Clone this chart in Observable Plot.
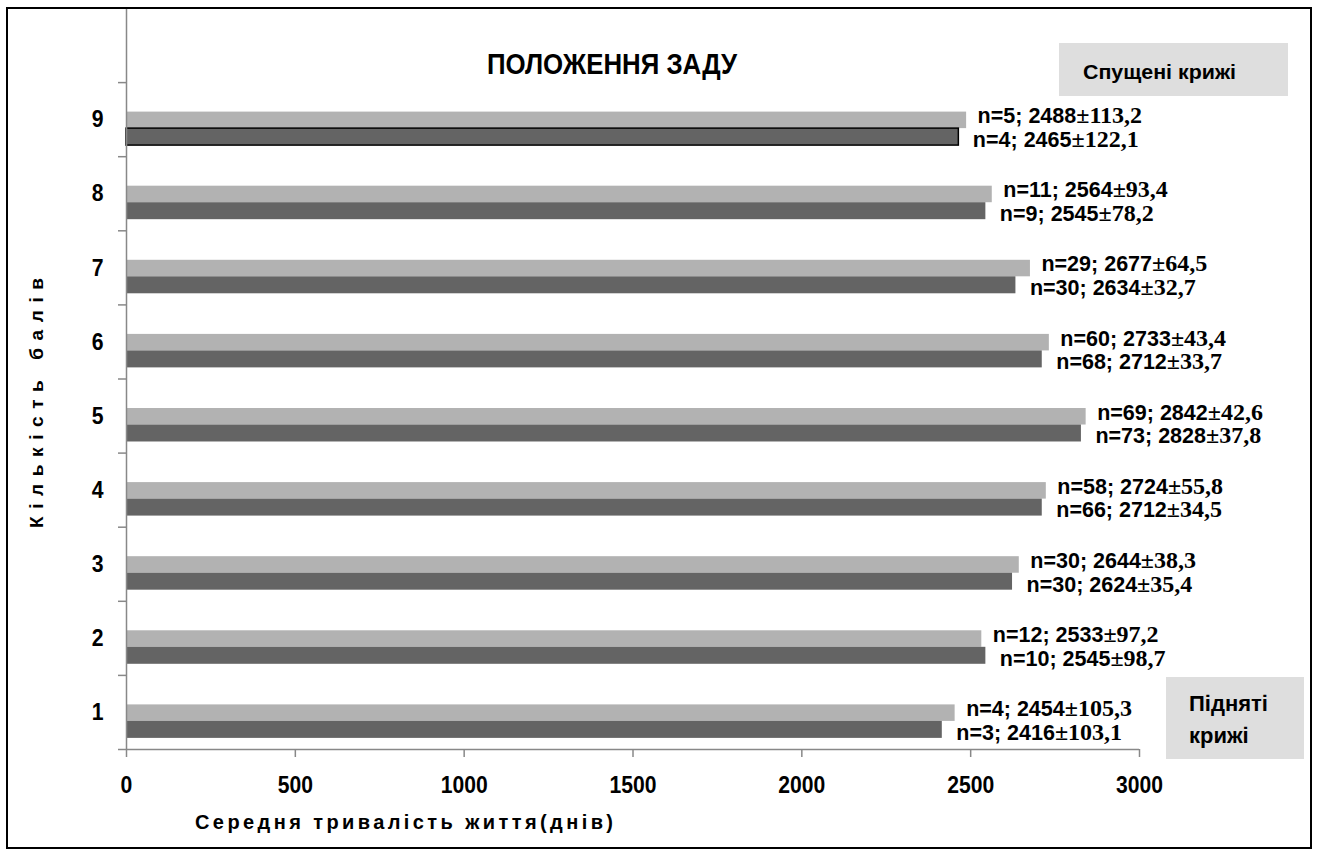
<!DOCTYPE html>
<html>
<head>
<meta charset="utf-8">
<script src="https://cdn.jsdelivr.net/npm/d3@7"></script>
<script src="https://cdn.jsdelivr.net/npm/@observablehq/plot@0.6"></script>
<style>
  body { margin: 0; background: #fff; }
  #chart svg { display: block; }
</style>
</head>
<body>
<div id="chart"></div>
<script>
// ---- data ----
const categories = [1, 2, 3, 4, 5, 6, 7, 8, 9];
// upper (light) bars
const lightN    = [4, 12, 30, 58, 69, 60, 29, 11, 5];
const lightMean = [2454, 2533, 2644, 2724, 2842, 2733, 2677, 2564, 2488];
const lightSE   = [105.3, 97.2, 38.3, 55.8, 42.6, 43.4, 64.5, 93.4, 113.2];
// lower (dark) bars
const darkN     = [3, 10, 30, 66, 73, 68, 30, 9, 4];
const darkMean  = [2416, 2545, 2624, 2712, 2828, 2712, 2634, 2545, 2465];
const darkSE    = [103.1, 98.7, 35.4, 34.5, 37.8, 33.7, 32.7, 78.2, 122.1];
const xTicks = [0, 500, 1000, 1500, 2000, 2500, 3000];
const titleText = "ПОЛОЖЕННЯ ЗАДУ";
const xTitle = "Середня тривалість життя(днів)";
const yTitle = "Кількість балів";
const boxTopText = "Спущені крижі";
const boxBottomText = ["Підняті", "крижі"];

// ---- build rows ----
const lightRows = categories.map((c, i) => ({cat: c, series: "light", value: lightMean[i], n: lightN[i], se: lightSE[i]}));
const darkRows  = categories.map((c, i) => ({cat: c, series: "dark",  value: darkMean[i],  n: darkN[i],  se: darkSE[i]}));

const slot = {light: [0.398, 0.621], dark: [0.621, 0.850]};
const fmt = d => `n=${d.n}; ${d.value}±${d.se.toFixed(1).replace(".", ",")}`;

const gray = "#888888";
const sans = "'Liberation Sans', Arial, sans-serif";
const serif = "'Liberation Serif', 'Times New Roman', serif";

const chart = Plot.plot({
  width: 1318,
  height: 854,
  marginLeft: 126,
  marginRight: 179,
  marginTop: 8,
  marginBottom: 105,
  style: {fontFamily: sans, background: "#fff", overflow: "visible"},
  x: {domain: [0, 3000], axis: null},
  y: {domain: [0, 10], axis: null},
  marks: [
    Plot.rect(lightRows, {x1: d => 0, x2: "value", y1: d => d.cat - slot.light[0], y2: d => d.cat - slot.light[1], fill: "#b2b2b2"}),
    Plot.rect(darkRows.filter(d => d.cat !== 9), {x1: d => 0, x2: "value", y1: d => d.cat - slot.dark[0], y2: d => d.cat - slot.dark[1], fill: "#646464"}),
    Plot.rect(darkRows.filter(d => d.cat === 9), {x1: d => 0, x2: "value", y1: d => d.cat - slot.dark[0], y2: d => d.cat - slot.dark[1], fill: "#646464", stroke: "#000", strokeWidth: 1.5}),
    Plot.ruleX([0], {stroke: gray, strokeWidth: 1.5}),
    Plot.ruleY([0], {stroke: gray, strokeWidth: 1.5}),
    Plot.axisY(d3.range(0, 10), {tickSize: 8, tickFormat: () => "", stroke: gray, strokeWidth: 1.5, label: null}),
    Plot.axisY(categories.map(c => c - 0.5), {tickSize: 0, tickPadding: 23, tickFormat: d => String(d + 0.5), fontSize: 24, fontWeight: "bold", fill: "#000", label: null}),
    Plot.axisX(xTicks, {tickSize: 8, tickPadding: 18, tickFormat: d => String(d), stroke: gray, strokeWidth: 1.5, fontSize: 24, fontWeight: "bold", fill: "#000", label: null}),
    Plot.text(lightRows, {x: "value", y: d => d.cat - (slot.light[0] + slot.light[1]) / 2, text: fmt, textAnchor: "start", dx: 11, dy: -4, fontSize: 21.5, fontWeight: "bold", fill: "#000"}),
    Plot.text(darkRows, {x: "value", y: d => d.cat - (slot.dark[0] + slot.dark[1]) / 2, text: fmt, textAnchor: "start", dx: 14, dy: 3, fontSize: 21.5, fontWeight: "bold", fill: "#000"})
  ]
});

document.getElementById("chart").appendChild(chart);
const svg = d3.select(chart);

// value labels: sans part + serif "±..." part
svg.selectAll("text").filter(function() { return this.textContent.includes("±"); }).each(function() {
  const t = this.textContent;
  const k = t.indexOf("±");
  const sel = d3.select(this);
  sel.text(null);
  sel.append("tspan").text(t.slice(0, k));
  sel.append("tspan").attr("font-family", serif).attr("font-size", 24).text(t.slice(k));
});

// slightly condense the axis tick labels (narrow look of the original)
svg.selectAll("text").filter(function() { return this.textContent && !this.textContent.includes("±"); }).each(function() {
  const w = this.getComputedTextLength();
  this.setAttribute("textLength", (w * 0.88).toFixed(1));
  this.setAttribute("lengthAdjust", "spacingAndGlyphs");
});

// outer border
svg.append("rect").attr("x", 7).attr("y", 8).attr("width", 1304).attr("height", 840)
  .attr("fill", "none").attr("stroke", "#000").attr("stroke-width", 2);
// title
svg.append("text").attr("x", 612).attr("y", 64).attr("text-anchor", "middle").attr("dominant-baseline", "central")
  .attr("font-family", sans).attr("font-weight", "bold").attr("font-size", 29)
  .attr("textLength", 250).attr("lengthAdjust", "spacingAndGlyphs").text(titleText);
// x title
svg.append("text").attr("x", 195).attr("y", 822).attr("text-anchor", "start").attr("dominant-baseline", "central")
  .attr("font-family", sans).attr("font-weight", "bold").attr("font-size", 20)
  .attr("textLength", 418).attr("lengthAdjust", "spacing").text(xTitle);
// y title
svg.append("text").attr("transform", "translate(36,403) rotate(-90)").attr("text-anchor", "middle").attr("dominant-baseline", "central")
  .attr("font-family", sans).attr("font-weight", "bold").attr("font-size", 19)
  .attr("textLength", 250).attr("lengthAdjust", "spacing").text(yTitle);
// top box
svg.append("rect").attr("x", 1059).attr("y", 43).attr("width", 229).attr("height", 53).attr("fill", "#dedede");
svg.append("text").attr("x", 1083).attr("y", 71).attr("text-anchor", "start").attr("dominant-baseline", "central")
  .attr("font-family", sans).attr("font-weight", "bold").attr("font-size", 21)
  .attr("textLength", 153).attr("lengthAdjust", "spacingAndGlyphs").text(boxTopText);
// bottom box
svg.append("rect").attr("x", 1166).attr("y", 677).attr("width", 138).attr("height", 82).attr("fill", "#dedede");
boxBottomText.forEach((s, i) => {
  svg.append("text").attr("x", 1189).attr("y", 703 + i * 32).attr("text-anchor", "start").attr("dominant-baseline", "central")
    .attr("font-family", sans).attr("font-weight", "bold").attr("font-size", 22).text(s);
});
</script>
</body>
</html>
